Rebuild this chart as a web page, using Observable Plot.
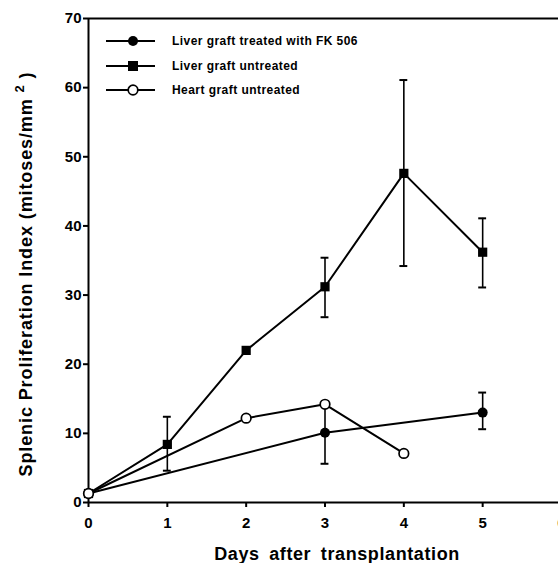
<!DOCTYPE html>
<html>
<head>
<meta charset="utf-8">
<script src="https://cdn.jsdelivr.net/npm/d3@7"></script>
<script src="https://cdn.jsdelivr.net/npm/@observablehq/plot@0.6"></script>
<style>
  html, body { margin: 0; padding: 0; background: #fff; }
  #chart { position: relative; width: 558px; height: 563px; overflow: hidden; }
  #legend { position: absolute; left: 100px; top: 29px; font: bold 12px "Liberation Sans", Arial, sans-serif; letter-spacing: 0.45px; color: #000; }
  .row { display: flex; align-items: center; height: 24.5px; }
  .row svg { margin-right: 12px; }
</style>
</head>
<body>
<div id="chart"><div id="legend"></div></div>
<script>
// ---- data ----
const xTicks = [0, 1, 2, 3, 4, 5, 6];
const yTicks = [0, 10, 20, 30, 40, 50, 60, 70];

const seriesNames = ["Liver graft treated with FK 506", "Liver graft untreated", "Heart graft untreated"];

const fkDays = [0, 3, 5];
const fkMean = [1.3, 10.1, 13.0];
const fkLow  = [null, 5.6, 10.6];
const fkHigh = [null, 14.2, 15.9];

const untDays = [0, 1, 2, 3, 4, 5];
const untMean = [1.3, 8.4, 22.0, 31.2, 47.6, 36.2];
const untLow  = [null, 4.6, null, 26.8, 34.2, 31.1];
const untHigh = [null, 12.4, null, 35.4, 61.1, 41.1];

const heartDays = [0, 2, 3, 4];
const heartMean = [1.3, 12.2, 14.2, 7.1];

const xLabel = "Days after transplantation";
const yLabelMain = "Splenic Proliferation Index (mitoses/mm";
const yLabelSup = "2";

// ---- build tables ----
const fk = fkDays.map((d, i) => ({day: d, v: fkMean[i], lo: fkLow[i], hi: fkHigh[i]}));
const unt = untDays.map((d, i) => ({day: d, v: untMean[i], lo: untLow[i], hi: untHigh[i]}));
const heart = heartDays.map((d, i) => ({day: d, v: heartMean[i]}));
const errs = [...fk, ...unt].filter(d => d.lo != null);
const caps = errs.flatMap(d => [{day: d.day, y: d.lo}, {day: d.day, y: d.hi}]);
const capHalf = 0.05;

const font = '"Liberation Sans", Arial, sans-serif';

const plot = Plot.plot({
  width: 558,
  height: 563,
  marginLeft: 88,
  marginRight: -3,
  marginTop: 18,
  marginBottom: 61,
  style: {fontFamily: font, background: "#fff", color: "#000", overflow: "visible"},
  x: {domain: [0, 6]},
  y: {domain: [0, 70]},
  marks: [
    Plot.ruleY([0], {stroke: "#000", strokeWidth: 2}),
    Plot.ruleY([70], {stroke: "#000", strokeWidth: 2}),
    Plot.ruleX([0], {stroke: "#000", strokeWidth: 2}),
    Plot.axisX({ticks: xTicks, tickSize: 5, tickPadding: 10, tickFormat: d => d, label: null,
      fontSize: 15, fontWeight: "bold", strokeWidth: 2}),
    Plot.axisY({ticks: yTicks, tickSize: 5, tickPadding: 2, tickFormat: d => d, label: null,
      fontSize: 15, fontWeight: "bold", strokeWidth: 2}),
    // error bars
    Plot.ruleX(errs, {x: "day", y1: "lo", y2: "hi", stroke: "#000", strokeWidth: 1.6}),
    Plot.ruleY(caps, {y: "y", x1: d => d.day - capHalf, x2: d => d.day + capHalf, stroke: "#000", strokeWidth: 2}),
    // lines
    Plot.line(fk, {x: "day", y: "v", stroke: "#000", strokeWidth: 2}),
    Plot.line(unt, {x: "day", y: "v", stroke: "#000", strokeWidth: 2}),
    Plot.line(heart, {x: "day", y: "v", stroke: "#000", strokeWidth: 2}),
    // markers
    Plot.dot(fk, {x: "day", y: "v", r: 5, fill: "#000", stroke: "none"}),
    Plot.dot(unt, {x: "day", y: "v", symbol: "square", r: 5.2, fill: "#000", stroke: "none"}),
    Plot.dot(heart, {x: "day", y: "v", r: 4.8, fill: "#fff", stroke: "#000", strokeWidth: 1.7})
  ]
});

const svg = d3.select(plot);
svg.append("text")
  .attr("x", 337).attr("y", 560)
  .attr("text-anchor", "middle")
  .attr("font-family", font).attr("font-weight", "bold").attr("font-size", 18)
  .attr("letter-spacing", 0.6).attr("word-spacing", 4)
  .text(xLabel);

const yl = svg.append("text")
  .attr("transform", "translate(32,274) rotate(-90)")
  .attr("text-anchor", "middle")
  .attr("font-family", font).attr("font-weight", "bold").attr("font-size", 18)
  .attr("letter-spacing", 0.9);
yl.append("tspan").text(yLabelMain + " ");
yl.append("tspan").attr("dy", -8).attr("font-size", 13).text(yLabelSup);
yl.append("tspan").attr("dy", 8).text(" )");

document.getElementById("chart").prepend(plot);

// ---- legend ----
const symbols = ["circle", "square", "open"];
const legend = d3.select("#legend");
seriesNames.forEach((name, i) => {
  const row = legend.append("div").attr("class", "row");
  const s = row.append("svg").attr("width", 60).attr("height", 14);
  s.append("line").attr("x1", 6).attr("x2", 55).attr("y1", 7).attr("y2", 7).attr("stroke", "#000").attr("stroke-width", 2);
  if (symbols[i] === "circle") s.append("circle").attr("cx", 33).attr("cy", 7).attr("r", 5).attr("fill", "#000");
  else if (symbols[i] === "square") s.append("rect").attr("x", 28).attr("y", 2).attr("width", 10).attr("height", 10).attr("fill", "#000");
  else s.append("circle").attr("cx", 33).attr("cy", 7).attr("r", 4.8).attr("fill", "#fff").attr("stroke", "#000").attr("stroke-width", 1.7);
  row.append("span").text(name);
});
</script>
</body>
</html>
